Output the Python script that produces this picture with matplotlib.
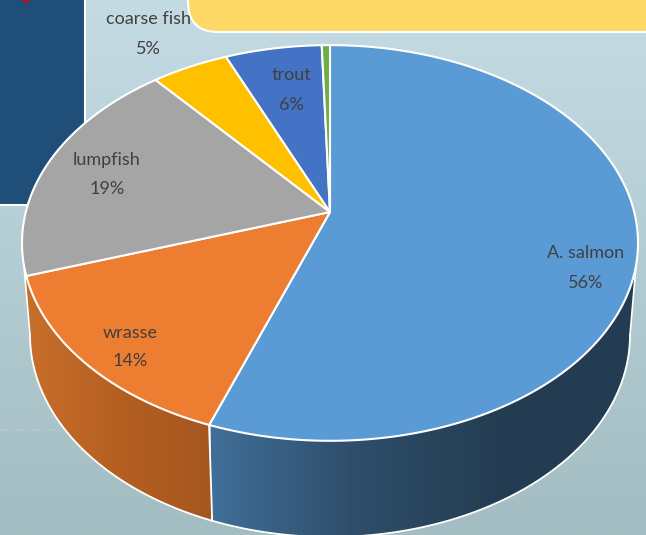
#!/usr/bin/env python3
"""Pseudo-3D pie of species shares, drawn in pixel coordinates."""
import numpy as np
import matplotlib
matplotlib.use("Agg")
import matplotlib.pyplot as plt
from matplotlib.colors import LinearSegmentedColormap
from matplotlib.patches import FancyBboxPatch, Polygon, Rectangle

species = ["A. salmon", "wrasse", "lumpfish", "coarse fish", "trout", "other"]
shares = [55.5, 14.4, 19.0, 4.7, 5.9, 0.5]
colors = ["#5b9bd5", "#ed7d31", "#a5a5a5", "#ffc000", "#4472c4", "#70ad47"]
label_x = [586, 130, 107, 148, 291]
label_y = [268, 347, 175, 34, 90]

W, H = 646, 535
APEX = (330, 212)          # where the slices meet on screen
TOP = (330, 243, 308, 198)     # top rim ellipse: cx, cy, rx, ry
BOT = (330, 335, 300, 202)     # bottom rim ellipse

# perspective of the disc, fitted so the circle lands on the top ellipse
K = 0.1565
A = 304.2
B = 193.0


def rim(theta):
    # theta clockwise from 12 o'clock, radians
    s, c = np.sin(theta), np.cos(theta)
    return APEX[0] + A * s / (1 + K * c), APEX[1] - B * c / (1 + K * c)


def rim_t(theta):
    # same point as angle on the screen ellipse
    x, y = rim(theta)
    return np.arctan2((y - TOP[1]) / TOP[3], (x - TOP[0]) / TOP[2])


def ell(e, t):
    return e[0] + e[2] * np.cos(t), e[1] + e[3] * np.sin(t)


def wall(ax, t0, t1, stops, x0, x1):
    t = np.linspace(t0, t1, 200)
    tx, ty = ell(TOP, t)
    bx, by = ell(BOT, t)
    pts = np.r_[np.c_[tx, ty], np.c_[bx, by][::-1]]
    poly = Polygon(pts, closed=True, fc="none", ec="none", transform=ax.transData)
    ax.add_patch(poly)
    cmap = LinearSegmentedColormap.from_list("w", stops)
    im = ax.imshow(np.linspace(0, 1, 256)[None, :], cmap=cmap, aspect="auto",
                   extent=[x0, x1, H, 0], zorder=3, interpolation="bilinear")
    im.set_clip_path(poly)
    ax.plot(bx, by, color="white", lw=1.3, zorder=4)
    return bx, by


plt.rcParams["font.family"] = ["Lato", "DejaVu Sans"]
fig = plt.figure(figsize=(W / 100, H / 100), dpi=100)
ax = fig.add_axes([0, 0, 1, 1])

bg = LinearSegmentedColormap.from_list("bg", ["#c4dbe3", "#a3bdc2"])
ax.imshow(np.linspace(0, 1, 256)[:, None], cmap=bg, aspect="auto",
          extent=[0, W, H, 0], zorder=0)

# bits of the slide behind the chart
ax.plot([0, 62], [429, 429], color="#b4c9da", lw=1, ls=(0, (6, 5)), zorder=1)
ax.add_patch(Rectangle((-5, -5), 90, 210, fc="#1f4e79", ec="white", lw=1.5, zorder=1))
ax.add_patch(Rectangle((23, -3), 6, 4.5, fc="#e00000", ec="none", zorder=1.5))
ax.add_patch(FancyBboxPatch((188, -60), 500, 92, boxstyle="round,pad=0,rounding_size=30",
                            fc="#ffd966", ec="white", lw=1.5, zorder=1.2))

edges = np.r_[0, np.cumsum(shares)] / sum(shares) * 2 * np.pi

# side walls: only salmon and wrasse reach the front
seam = rim_t(edges[1])
left = np.pi
wall(ax, 0, seam, ["#416f98", "#2e4e6b", "#243d52", "#233c51"], 211, 640)
wall(ax, seam, left, ["#c96f2b", "#b55f22", "#a5571f"], 25, 211)
sx, sy = ell(TOP, seam), ell(BOT, seam)
ax.plot([sx[0], sy[0]], [sx[1], sy[1]], color="white", lw=1.3, zorder=4)
for t in (0.0, np.pi):
    p, q = ell(TOP, t), ell(BOT, t)
    ax.plot([p[0], q[0]], [p[1], q[1]], color="white", lw=1.2, zorder=4)

# top face
for i, color in enumerate(colors):
    th = np.linspace(edges[i], edges[i + 1], 200)
    x, y = rim(th)
    pts = np.r_[[APEX], np.c_[x, y]]
    ax.add_patch(Polygon(pts, closed=True, fc=color, ec="white", lw=1.5,
                         joinstyle="round", zorder=5))

for i in range(len(label_x)):
    ax.text(label_x[i], label_y[i], f"{species[i]}\n{shares[i]:.0f}%", ha="center",
            va="center", fontsize=13, color="#404040", linespacing=2.0, zorder=6)

ax.set_xlim(0, W)
ax.set_ylim(H, 0)
ax.axis("off")
fig.savefig("out.png", dpi=100)
